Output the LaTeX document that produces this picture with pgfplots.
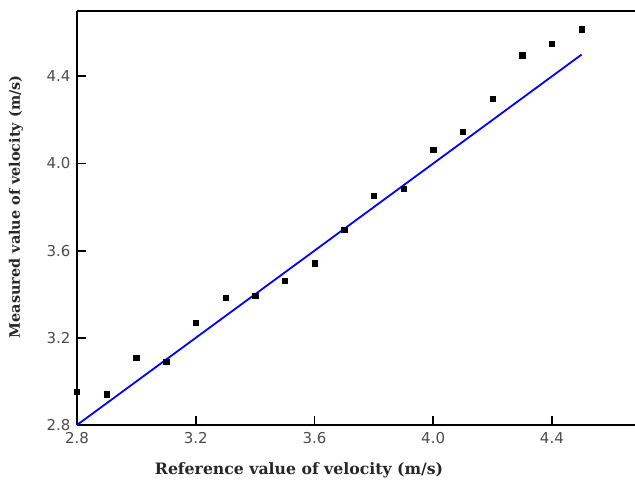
\documentclass[border=0pt]{standalone}
\usepackage{fontspec}
\setmainfont{DejaVu Serif}
\newfontfamily\ticksans{DejaVu Sans}
\usepackage{pgfplots}
\pgfplotsset{compat=1.18}
\begin{document}
\begin{tikzpicture}
\begin{axis}[
  scale only axis,
  width=558pt, height=414pt,
  xmin=2.8, xmax=4.68, ymin=2.8, ymax=4.70,
  axis x line=box, axis y line=left,
  axis line style={-, line width=1.8pt, black},
  xtick={2.8,3.2,3.6,4.0,4.4}, ytick={2.8,3.2,3.6,4.0,4.4},
  xtick pos=left, ytick pos=left,
  tick align=inside, major tick length=9pt,
  every tick/.style={black, line width=1.8pt},
  minor tick num=0,
  xticklabel style={font=\ticksans\fontsize{15}{18}\selectfont, text=black!70, yshift=-4pt},
  yticklabel style={font=\ticksans\fontsize{15}{18}\selectfont, text=black!70, xshift=-3pt},
  /pgf/number format/assume math mode=true,
  /pgf/number format/fixed, /pgf/number format/fixed zerofill, /pgf/number format/precision=1,
  xlabel={Reference value of velocity (m/s)},
  ylabel={Measured value of velocity (m/s)},
  xlabel style={font=\bfseries\fontsize{15.7}{18}\selectfont, text=black!85, at={(axis description cs:0.398,0)}, anchor=center, yshift=-45pt},
  ylabel style={font=\bfseries\fontsize{14.4}{17}\selectfont, text=black!85, at={(axis description cs:-0.1093,0.527)}, anchor=center},
  clip=false,
]
\addplot[only marks, mark=square*, mark size=2.7pt, black] coordinates {
(2.8,2.952) (2.9,2.941) (3.0,3.109) (3.1,3.090) (3.2,3.269) (3.3,3.383)
(3.4,3.393) (3.5,3.462) (3.6,3.542) (3.7,3.695) (3.8,3.853) (3.9,3.884)
(4.0,4.064) (4.1,4.146) (4.2,4.297) (4.3,4.498) (4.4,4.549) (4.5,4.617)
};
\addplot[blue, line width=1.8pt] coordinates {(2.8,2.8) (4.5,4.5)};
\coordinate (bl) at (rel axis cs:0,0);
\coordinate (tr) at (rel axis cs:1,1);
\end{axis}
\pgfresetboundingbox
\useasboundingbox ([shift={(-77pt,-55pt)}]bl) rectangle ([shift={(0pt,11pt)}]tr);
\end{tikzpicture}
\end{document}
